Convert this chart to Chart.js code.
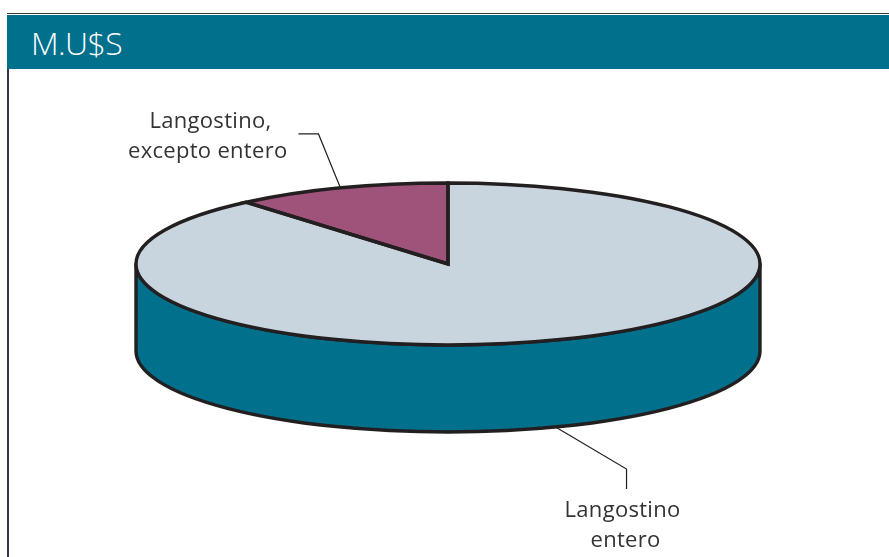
<!DOCTYPE html>
<html>
<head>
<meta charset="utf-8">
<script src="https://cdn.jsdelivr.net/npm/chart.js@4/dist/chart.umd.min.js"></script>
<style>
  html, body { margin: 0; padding: 0; background: #fff; overflow: hidden; }
  #page { position: relative; width: 889px; height: 557px; }
  #topLine { position: absolute; left: 7px; right: 0; top: 13px; height: 1.4px; background: #3a3640; }
  #band {
    position: absolute; left: 7px; right: 0; top: 15px; height: 54px; background: #00708c;
    color: #fff; font: 300 32px "Open Sans", sans-serif; line-height: 56px; letter-spacing: -0.6px;
    padding-left: 24px; box-sizing: border-box;
  }
  #leftLine { position: absolute; left: 7px; top: 69px; bottom: 0; width: 1.6px; background: #3a3640; }
  canvas { position: absolute; left: 0; top: 0; }
</style>
</head>
<body>
<div id="page">
  <canvas id="pieChart" width="889" height="557"></canvas>
  <div id="topLine"></div>
  <div id="band">M.U$S</div>
  <div id="leftLine"></div>
</div>
<script>
const categories = [["Langostino", "entero"], ["Langostino,", "excepto entero"]];
const seriesValues = [88.8, 11.2];
const sliceColors = ["#c8d4de", "#a0537a"];

const sideColor = "#00708c";
const lineColor = "#231f20";
const squash = 81 / 312;
const depth = 87;

// leader elbows and label anchors, as offsets from the slice's rim point
const leaders = [
  { front: true, elbow: [71, 42], end: [71, 62], textAt: [67, 82], shift: [0, 3] },
  { front: false, elbow: [-22, -54], end: [-42, -54], textAt: [-54, -68], shift: [-15, 1] }
];

const pie3d = {
  id: "pie3d",
  beforeDatasetsDraw(chart) {
    const ctx = chart.ctx;
    const first = chart.getDatasetMeta(0).data[0];
    const rx = first.outerRadius;
    const ry = rx * squash;

    // side wall below the top face
    ctx.save();
    ctx.beginPath();
    ctx.moveTo(first.x - rx, first.y);
    ctx.lineTo(first.x - rx, first.y + depth);
    ctx.ellipse(first.x, first.y + depth, rx, ry, 0, Math.PI, 0, true);
    ctx.lineTo(first.x + rx, first.y);
    ctx.ellipse(first.x, first.y, rx, ry, 0, 0, Math.PI, false);
    ctx.closePath();
    ctx.fillStyle = sideColor;
    ctx.fill();
    ctx.lineWidth = 3.4;
    ctx.lineJoin = "round";
    ctx.strokeStyle = lineColor;
    ctx.stroke();
    ctx.restore();

    // flatten the library's slices into an ellipse
    ctx.save();
    ctx.translate(first.x, first.y);
    ctx.scale(1, squash);
    ctx.translate(-first.x, -first.y);
  },
  afterDatasetsDraw(chart) {
    const ctx = chart.ctx;
    ctx.restore();

    const arcs = chart.getDatasetMeta(0).data;
    arcs.forEach((arc, i) => {
      // outline in flattened space, stroked in normal space so the pen stays even
      ctx.save();
      ctx.translate(arc.x, arc.y);
      ctx.scale(1, squash);
      ctx.beginPath();
      ctx.moveTo(0, 0);
      ctx.arc(0, 0, arc.outerRadius, arc.startAngle, arc.endAngle);
      ctx.closePath();
      ctx.restore();
      ctx.lineWidth = 3.4;
      ctx.lineJoin = "miter";
      ctx.strokeStyle = lineColor;
      ctx.stroke();

      // leader and label
      const mid = (arc.startAngle + arc.endAngle) / 2;
      const l = leaders[i];
      const px = arc.x + Math.cos(mid) * arc.outerRadius;
      const py = arc.y + Math.sin(mid) * arc.outerRadius * squash + (l.front ? depth : 0);
      ctx.beginPath();
      ctx.moveTo(px, py);
      ctx.lineTo(px + l.elbow[0], py + l.elbow[1]);
      ctx.lineTo(px + l.end[0], py + l.end[1]);
      ctx.lineWidth = 1.2;
      ctx.stroke();

      ctx.fillStyle = "#333333";
      ctx.font = '22px "Open Sans", sans-serif';
      ctx.letterSpacing = "0.3px";
      ctx.textBaseline = "middle";
      ctx.textAlign = i === 0 ? "center" : "right";
      categories[i].forEach((line, n) => {
        ctx.fillText(line, px + l.textAt[0] + l.shift[n], py + l.textAt[1] + 2 + n * 30);
      });
    });
  }
};

new Chart(document.getElementById("pieChart"), {
  type: "pie",
  data: {
    labels: categories.map((c) => c.join(" ")),
    datasets: [{
      data: seriesValues,
      backgroundColor: sliceColors,
      borderWidth: 0,
      clip: false
    }]
  },
  options: {
    responsive: false,
    animation: false,
    radius: 312,
    layout: { padding: { left: 7, right: 0, top: 0, bottom: 29 } },
    plugins: { legend: { display: false }, tooltip: { enabled: false } }
  },
  plugins: [pie3d]
});
</script>
</body>
</html>
